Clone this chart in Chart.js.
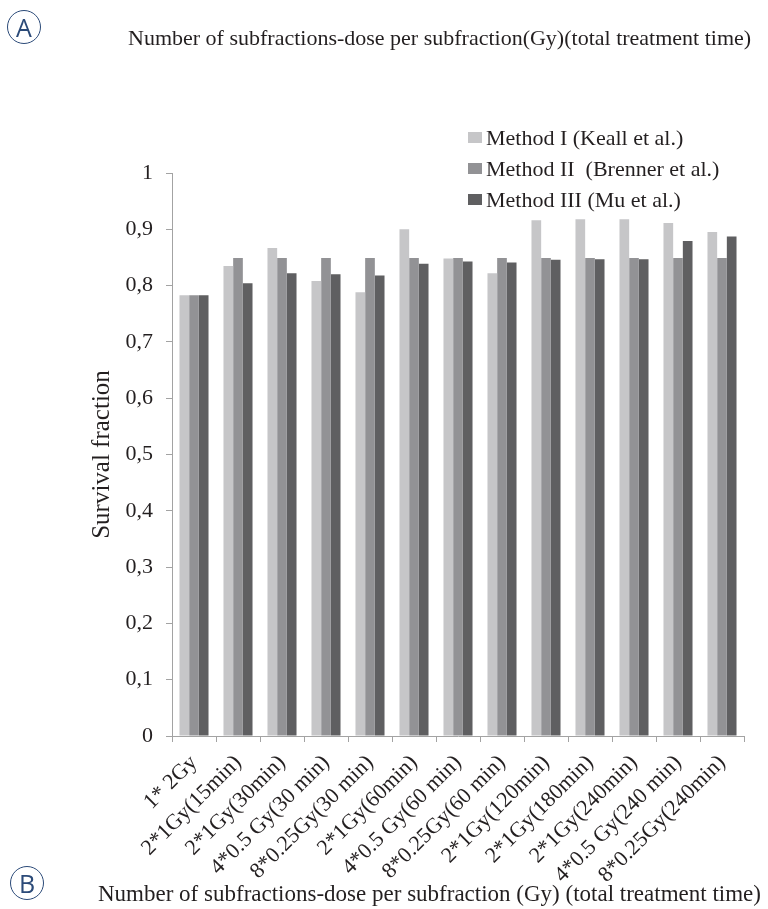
<!DOCTYPE html>
<html>
<head>
<meta charset="utf-8">
<script src="https://cdn.jsdelivr.net/npm/chart.js@4.4.1/dist/chart.umd.min.js"></script>
<style>
  html, body { margin: 0; padding: 0; background: #fff; }
  #wrap { position: relative; width: 768px; height: 909px; overflow: hidden; }
  #chart { position: absolute; left: 0; top: 0; }
  .badge {
    position: absolute; width: 32px; height: 32px; border: 1.6px solid #2b4a78; border-radius: 50%;
    color: #2b4a78; font: 25px "Open Sans", sans-serif; line-height: 32px; text-align: center;
  }
  .caption {
    position: absolute; font-family: "Liberation Serif", serif; color: #231f20; white-space: nowrap;
  }
  #legend { position: absolute; left: 468px; top: 122px; font: 22px "Liberation Serif", serif; color: #231f20; }
  #legend div { height: 31px; display: flex; align-items: center; white-space: pre; }
  #legend span { display: inline-block; width: 14px; height: 11px; margin-right: 4px; }
</style>
</head>
<body>
<div id="wrap">
  <canvas id="chart" width="768" height="909"></canvas>
  <div class="badge" style="left:7px;top:10px;">A</div>
  <div class="caption" style="left:128px;top:25px;font-size:22px;">Number of subfractions-dose per subfraction(Gy)(total treatment time)</div>
  <div id="legend"></div>
  <div class="caption" style="left:98px;top:881px;font-size:23px;">Number of subfractions-dose per subfraction (Gy) (total treatment time)</div>
  <div class="badge" style="left:10px;top:866px;">B</div>
</div>
<script>
// Data
const categories = [
    '1* 2Gy', '2*1Gy(15min)', '2*1Gy(30min)', '4*0.5 Gy(30 min)', '8*0.25Gy(30 min)',
    '2*1Gy(60min)', '4*0.5 Gy(60 min)', '8*0.25Gy(60 min)', '2*1Gy(120min)', '2*1Gy(180min)',
    '2*1Gy(240min)', '4*0.5 Gy(240 min)', '8*0.25Gy(240min)'
];
const seriesNames = ['Method I (Keall et al.)', 'Method II  (Brenner et al.)', 'Method III (Mu et al.)'];
const seriesColors = ['#c6c6c8', '#929295', '#5f5f61'];
const methodI   = [0.783, 0.835, 0.867, 0.808, 0.788, 0.900, 0.848, 0.822, 0.916, 0.918, 0.918, 0.911, 0.895];
const methodII  = [0.783, 0.849, 0.849, 0.849, 0.849, 0.849, 0.849, 0.849, 0.849, 0.849, 0.849, 0.849, 0.849];
const methodIII = [0.783, 0.804, 0.822, 0.820, 0.818, 0.839, 0.843, 0.841, 0.846, 0.847, 0.847, 0.879, 0.887];
const yMin = 0, yMax = 1, yStep = 0.1;

const seriesValues = [methodI, methodII, methodIII];
const axisColor = '#a3a3a3';
const textColor = '#231f20';
const serif = '"Liberation Serif", "Times New Roman", serif';

// legend as plain html, built from the series arrays
const legendBox = document.getElementById('legend');
seriesNames.forEach((name, i) => {
    const row = document.createElement('div');
    row.innerHTML = '<span style="background:' + seriesColors[i] + '"></span>' + name;
    legendBox.appendChild(row);
});

new Chart(document.getElementById('chart'), {
    type: 'bar',
    data: {
        labels: categories,
        datasets: seriesNames.map((name, i) => ({
            label: name,
            data: seriesValues[i],
            backgroundColor: seriesColors[i],
            borderWidth: 0,
            barPercentage: 1,
            categoryPercentage: 0.66
        }))
    },
    options: {
        responsive: false,
        devicePixelRatio: 1,
        animation: false,
        layout: { padding: { left: 0, top: 173, right: 24, bottom: 0 } },
        plugins: {
            legend: { display: false },
            tooltip: { enabled: false }
        },
        scales: {
            x: {
                afterFit: (scale) => { scale.height = 173; },
                grid: { drawOnChartArea: false, tickLength: 6, color: axisColor },
                border: { color: axisColor },
                ticks: {
                    autoSkip: false, minRotation: 45, maxRotation: 45, padding: 8,
                    color: textColor, font: { family: serif, size: 22 }
                }
            },
            y: {
                min: yMin, max: yMax,
                afterFit: (scale) => { scale.width = 172; },
                grid: { drawOnChartArea: false, tickLength: 6, color: axisColor },
                border: { color: axisColor },
                ticks: {
                    stepSize: yStep, padding: 13, color: textColor,
                    font: { family: serif, size: 22 },
                    callback: (v) => {
                        const r = Math.round(v * 10) / 10;
                        return Number.isInteger(r) ? String(r) : r.toFixed(1).replace('.', ',');
                    }
                },
                title: {
                    display: true, text: 'Survival fraction', color: textColor,
                    font: { family: serif, size: 25 }, padding: { top: 87 }
                }
            }
        }
    }
});
</script>
</body>
</html>
